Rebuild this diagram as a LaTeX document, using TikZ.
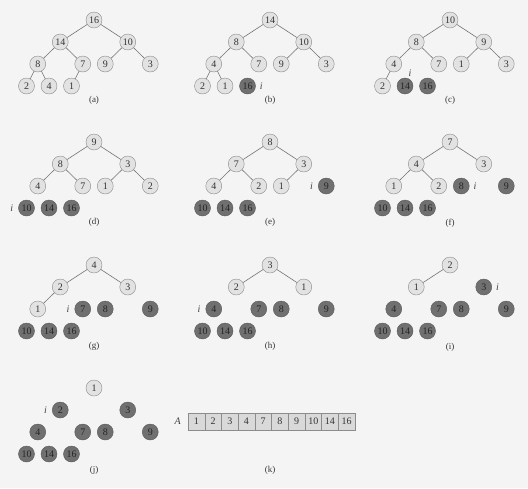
\documentclass[tikz,border=0pt]{standalone}
\usepackage{fontspec}
\setmainfont{Liberation Serif}
\usetikzlibrary{positioning}
\definecolor{paperGray}{HTML}{F4F4F4}
\definecolor{lightFill}{HTML}{E2E2E2}
\definecolor{darkFill}{HTML}{707070}
\tikzstyle{heapNode} = [circle, draw=black!45, fill=lightFill, text=black!80, inner sep=0pt, minimum size=16pt]
\tikzstyle{doneNode} = [circle, draw=black!65, fill=darkFill, text=black!85, inner sep=0pt, minimum size=16pt]
\tikzstyle{heapEdge} = [draw=black!55, line width=0.6pt]
\tikzstyle{iMark} = [inner sep=0pt, font=\itshape, text=black!75]
\tikzstyle{caption} = [font=\small, text=black!80]
\tikzstyle{cell} = [rectangle, draw=black!45, fill=black!15, text=black!80, minimum width=16.7pt, minimum height=17pt, inner sep=0pt, outer sep=0pt]

\begin{document}
\begin{tikzpicture}[x=1pt,y=-1pt]
\fill [paperGray] (0,0) rectangle (528,488);

% (a)
\begin{scope}[shift={(94,20)}]
\node [heapNode] (a1) at (0,0) {16};
\node [heapNode] (a2) at (-33.75,22) {14};
\node [heapNode] (a3) at (33.75,22) {10};
\node [heapNode] (a4) at (-56.25,44) {8};
\node [heapNode] (a5) at (-11.25,44) {7};
\node [heapNode] (a6) at (11.25,44) {9};
\node [heapNode] (a7) at (56.25,44) {3};
\node [heapNode] (a8) at (-67.5,66) {2};
\node [heapNode] (a9) at (-45,66) {4};
\node [heapNode] (a10) at (-22.5,66) {1};
\node [caption] (aCap) at (0,80) {(a)};
\draw [heapEdge] (a1) -- (a2) (a1) -- (a3) (a2) -- (a4) (a2) -- (a5) (a3) -- (a6) (a3) -- (a7) (a4) -- (a8) (a4) -- (a9) (a5) -- (a10);
\end{scope}

% (b)
\begin{scope}[shift={(270,20)}]
\node [heapNode] (b1) at (0,0) {14};
\node [heapNode] (b2) at (-33.75,22) {8};
\node [heapNode] (b3) at (33.75,22) {10};
\node [heapNode] (b4) at (-56.25,44) {4};
\node [heapNode] (b5) at (-11.25,44) {7};
\node [heapNode] (b6) at (11.25,44) {9};
\node [heapNode] (b7) at (56.25,44) {3};
\node [heapNode] (b8) at (-67.5,66) {2};
\node [heapNode] (b9) at (-45,66) {1};
\node [doneNode] (b10) at (-22.5,66) {16};
\node [iMark, right=4pt of b10] (bi) {i};
\node [caption] (bCap) at (0,80) {(b)};
\draw [heapEdge] (b1) -- (b2) (b1) -- (b3) (b2) -- (b4) (b2) -- (b5) (b3) -- (b6) (b3) -- (b7) (b4) -- (b8) (b4) -- (b9);
\end{scope}

% (c)
\begin{scope}[shift={(450,20)}]
\node [heapNode] (c1) at (0,0) {10};
\node [heapNode] (c2) at (-33.75,22) {8};
\node [heapNode] (c3) at (33.75,22) {9};
\node [heapNode] (c4) at (-56.25,44) {4};
\node [heapNode] (c5) at (-11.25,44) {7};
\node [heapNode] (c6) at (11.25,44) {1};
\node [heapNode] (c7) at (56.25,44) {3};
\node [heapNode] (c8) at (-67.5,66) {2};
\node [doneNode] (c9) at (-45,66) {14};
\node [doneNode] (c10) at (-22.5,66) {16};
\node [iMark] (ci) at (-40,53) {i};
\node [caption] (cCap) at (0,80) {(c)};
\draw [heapEdge] (c1) -- (c2) (c1) -- (c3) (c2) -- (c4) (c2) -- (c5) (c3) -- (c6) (c3) -- (c7) (c4) -- (c8);
\end{scope}

% (d)
\begin{scope}[shift={(94,142)}]
\node [heapNode] (d1) at (0,0) {9};
\node [heapNode] (d2) at (-33.75,22) {8};
\node [heapNode] (d3) at (33.75,22) {3};
\node [heapNode] (d4) at (-56.25,44) {4};
\node [heapNode] (d5) at (-11.25,44) {7};
\node [heapNode] (d6) at (11.25,44) {1};
\node [heapNode] (d7) at (56.25,44) {2};
\node [doneNode] (d8) at (-67.5,66) {10};
\node [doneNode] (d9) at (-45,66) {14};
\node [doneNode] (d10) at (-22.5,66) {16};
\node [iMark, left=5pt of d8] (di) {i};
\node [caption] (dCap) at (0,80) {(d)};
\draw [heapEdge] (d1) -- (d2) (d1) -- (d3) (d2) -- (d4) (d2) -- (d5) (d3) -- (d6) (d3) -- (d7);
\end{scope}

% (e)
\begin{scope}[shift={(270,142)}]
\node [heapNode] (e1) at (0,0) {8};
\node [heapNode] (e2) at (-33.75,22) {7};
\node [heapNode] (e3) at (33.75,22) {3};
\node [heapNode] (e4) at (-56.25,44) {4};
\node [heapNode] (e5) at (-11.25,44) {2};
\node [heapNode] (e6) at (11.25,44) {1};
\node [doneNode] (e7) at (56.25,44) {9};
\node [doneNode] (e8) at (-67.5,66) {10};
\node [doneNode] (e9) at (-45,66) {14};
\node [doneNode] (e10) at (-22.5,66) {16};
\node [iMark, left=5pt of e7] (ei) {i};
\node [caption] (eCap) at (0,80) {(e)};
\draw [heapEdge] (e1) -- (e2) (e1) -- (e3) (e2) -- (e4) (e2) -- (e5) (e3) -- (e6);
\end{scope}

% (f)
\begin{scope}[shift={(450,142)}]
\node [heapNode] (f1) at (0,0) {7};
\node [heapNode] (f2) at (-33.75,22) {4};
\node [heapNode] (f3) at (33.75,22) {3};
\node [heapNode] (f4) at (-56.25,44) {1};
\node [heapNode] (f5) at (-11.25,44) {2};
\node [doneNode] (f6) at (11.25,44) {8};
\node [doneNode] (f7) at (56.25,44) {9};
\node [doneNode] (f8) at (-67.5,66) {10};
\node [doneNode] (f9) at (-45,66) {14};
\node [doneNode] (f10) at (-22.5,66) {16};
\node [iMark, right=4pt of f6] (fi) {i};
\node [caption] (fCap) at (0,81) {(f)};
\draw [heapEdge] (f1) -- (f2) (f1) -- (f3) (f2) -- (f4) (f2) -- (f5);
\end{scope}

% (g)
\begin{scope}[shift={(94,265)}]
\node [heapNode] (g1) at (0,0) {4};
\node [heapNode] (g2) at (-33.75,22) {2};
\node [heapNode] (g3) at (33.75,22) {3};
\node [heapNode] (g4) at (-56.25,44) {1};
\node [doneNode] (g5) at (-11.25,44) {7};
\node [doneNode] (g6) at (11.25,44) {8};
\node [doneNode] (g7) at (56.25,44) {9};
\node [doneNode] (g8) at (-67.5,66) {10};
\node [doneNode] (g9) at (-45,66) {14};
\node [doneNode] (g10) at (-22.5,66) {16};
\node [iMark, left=5pt of g5] (gi) {i};
\node [caption] (gCap) at (0,81) {(g)};
\draw [heapEdge] (g1) -- (g2) (g1) -- (g3) (g2) -- (g4);
\end{scope}

% (h)
\begin{scope}[shift={(270,265)}]
\node [heapNode] (h1) at (0,0) {3};
\node [heapNode] (h2) at (-33.75,22) {2};
\node [heapNode] (h3) at (33.75,22) {1};
\node [doneNode] (h4) at (-56.25,44) {4};
\node [doneNode] (h5) at (-11.25,44) {7};
\node [doneNode] (h6) at (11.25,44) {8};
\node [doneNode] (h7) at (56.25,44) {9};
\node [doneNode] (h8) at (-67.5,66) {10};
\node [doneNode] (h9) at (-45,66) {14};
\node [doneNode] (h10) at (-22.5,66) {16};
\node [iMark, left=5pt of h4] (hi) {i};
\node [caption] (hCap) at (0,81) {(h)};
\draw [heapEdge] (h1) -- (h2) (h1) -- (h3);
\end{scope}

% (i)
\begin{scope}[shift={(450,265)}]
\node [heapNode] (i1) at (0,0) {2};
\node [heapNode] (i2) at (-33.75,22) {1};
\node [doneNode] (i3) at (33.75,22) {3};
\node [doneNode] (i4) at (-56.25,44) {4};
\node [doneNode] (i5) at (-11.25,44) {7};
\node [doneNode] (i6) at (11.25,44) {8};
\node [doneNode] (i7) at (56.25,44) {9};
\node [doneNode] (i8) at (-67.5,66) {10};
\node [doneNode] (i9) at (-45,66) {14};
\node [doneNode] (i10) at (-22.5,66) {16};
\node [iMark, right=4pt of i3] (ii) {i};
\node [caption] (iCap) at (0,82) {(i)};
\draw [heapEdge] (i1) -- (i2);
\end{scope}

% (j)
\begin{scope}[shift={(94,388)}]
\node [heapNode] (j1) at (0,0) {1};
\node [doneNode] (j2) at (-33.75,22) {2};
\node [doneNode] (j3) at (33.75,22) {3};
\node [doneNode] (j4) at (-56.25,44) {4};
\node [doneNode] (j5) at (-11.25,44) {7};
\node [doneNode] (j6) at (11.25,44) {8};
\node [doneNode] (j7) at (56.25,44) {9};
\node [doneNode] (j8) at (-67.5,66) {10};
\node [doneNode] (j9) at (-45,66) {14};
\node [doneNode] (j10) at (-22.5,66) {16};
\node [iMark, left=5pt of j2] (ji) {i};
\node [caption] (jCap) at (0,82) {(j)};
\end{scope}

% (k)
\node [cell] (k1) at (196.35,421.5) {1};
\node [cell,right=0pt of k1] (k2) {2};
\node [cell,right=0pt of k2] (k3) {3};
\node [cell,right=0pt of k3] (k4) {4};
\node [cell,right=0pt of k4] (k5) {7};
\node [cell,right=0pt of k5] (k6) {8};
\node [cell,right=0pt of k6] (k7) {9};
\node [cell,right=0pt of k7] (k8) {10};
\node [cell,right=0pt of k8] (k9) {14};
\node [cell,right=0pt of k9] (k10) {16};
\node [iMark, left=7pt of k1] (kA) {A};
\node [caption] (kCap) at (270,470) {(k)};
\end{tikzpicture}
\end{document}
